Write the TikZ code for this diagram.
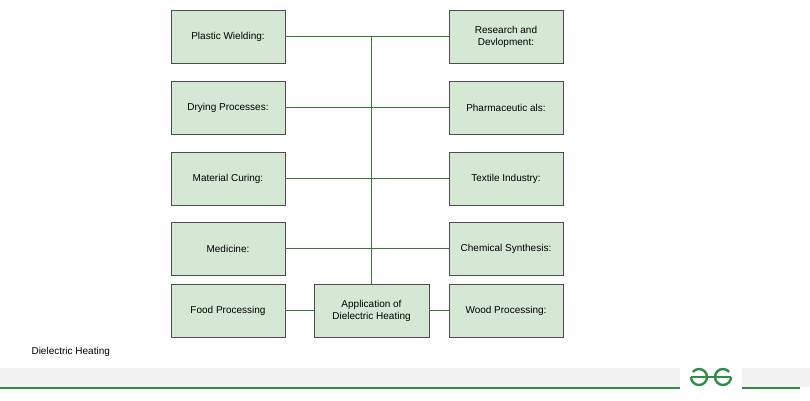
\documentclass[tikz,border=0pt]{standalone}
\usepackage{fontspec}
\setmainfont{Liberation Sans}
\begin{document}
\begin{tikzpicture}[x=1pt,y=-1pt,
  box/.style={draw=black!70,fill=boxg,minimum width=114pt,minimum height=53pt,align=center,font=\fontsize{10}{12}\selectfont,inner sep=1pt},
  ln/.style={draw=green!35!black!80,line width=0.7pt}]
\definecolor{boxg}{HTML}{D5E8D4}
\definecolor{gfg}{HTML}{2F8D46}
\useasboundingbox (0,0) rectangle (810,400);
\fill[gray!10] (0,368) rectangle (810,387);
\fill[white] (680,360) rectangle (742,395);
\draw[gfg,line width=1.5pt] (0,388) -- (680,388) (742,388) -- (800,388);
\draw[gfg,line width=2.4pt] (699,377) ++(180:8) arc[start angle=180,end angle=-140,radius=8];
\draw[gfg,line width=2.4pt] (723,377) ++(0:8) arc[start angle=0,end angle=320,radius=8];
\draw[gfg,line width=2.4pt] (691,377) -- (731,377);
\node[box] (pw) at (228,36.5) {Plastic Wielding:};
\node[box] (dp) at (228,107.5) {Drying Processes:};
\node[box] (mc) at (228,178.5) {Material Curing:};
\node[box] (me) at (228,248.5) {Medicine:};
\node[box] (fp) at (228,310.5) {Food Processing};
\node[box] (rd) at (506,36.5) {Research and\\Devlopment:};
\node[box] (ph) at (506,107.5) {Pharmaceutic als:};
\node[box] (ti) at (506,178.5) {Textile Industry:};
\node[box] (cs) at (506,248.5) {Chemical Synthesis:};
\node[box] (wp) at (506,310.5) {Wood Processing:};
\node[box,minimum width=115pt] (ap) at (371.5,310.5) {Application of\\Dielectric Heating};
\node[anchor=west,font=\fontsize{10}{12}\selectfont] (t) at (28,352) {Dielectric Heating};
\draw[ln] (pw.east) -- (rd.west);
\draw[ln] (dp.east) -- (ph.west);
\draw[ln] (mc.east) -- (ti.west);
\draw[ln] (me.east) -- (cs.west);
\draw[ln] (fp.east) -- (ap.west);
\draw[ln] (ap.east) -- (wp.west);
\draw[ln] (ap.north) -- (ap.north |- pw.east);
\end{tikzpicture}
\end{document}
